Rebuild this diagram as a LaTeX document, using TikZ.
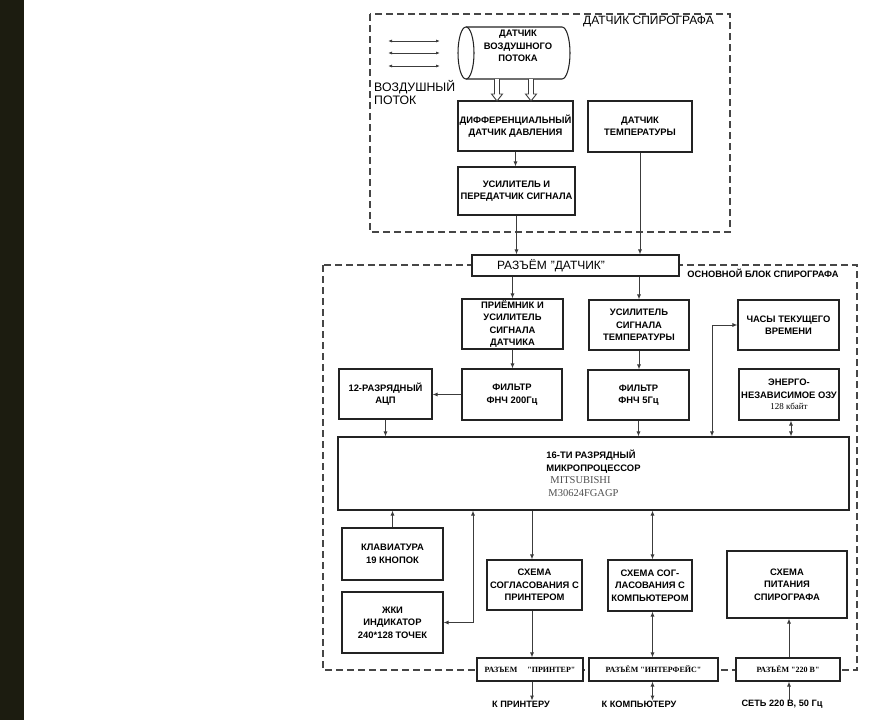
\documentclass[tikz,border=0pt]{standalone}
\usepackage{fontspec}
\setmainfont{Liberation Sans}
\newfontfamily\serifrm{Liberation Serif}
\usetikzlibrary{arrows.meta}
\definecolor{barcol}{RGB}{28,28,16}
\definecolor{linecol}{RGB}{35,35,35}
\definecolor{wirecol}{RGB}{60,60,60}
\definecolor{dashcol}{RGB}{70,70,70}
\definecolor{mpgray}{RGB}{80,80,80}
\begin{document}
\begin{tikzpicture}[x=1pt,y=-1pt,
  ln/.style={draw=linecol, line width=1.05pt},
  wire/.style={draw=wirecol, line width=0.9pt},
  box/.style={ln, fill=white, font=\fontsize{9.4}{12.5}\selectfont\bfseries, align=center, inner sep=0.5pt},
  conn/.style={ln, fill=white, font=\serifrm\fontsize{8}{10}\selectfont\bfseries, align=center, inner sep=1pt},
  dashbox/.style={draw=dashcol, line width=1.1pt, dash pattern=on 7pt off 4pt},
  arr/.style={wire, -{Latex[length=5pt,width=4pt]}},
  darr/.style={wire, {Latex[length=5pt,width=4pt]}-{Latex[length=5pt,width=4pt]}},
  flow/.style={draw=wirecol, line width=0.8pt, {Latex[length=4pt,width=3pt]}-{Latex[length=4pt,width=3pt]}},
  lbl/.style={font=\fontsize{9.2}{11}\selectfont\bfseries, inner sep=0pt}
]
\useasboundingbox (0,0) rectangle (869,720);
\fill[white] (0,0) rectangle (869,720);
\fill[barcol] (0,0) rectangle (24,720);

% dashed enclosures
\draw[dashbox] (370,14) rectangle (730,232);
\draw[dashbox] (323,265) rectangle (857,670);
\node[font=\fontsize{12}{13}\selectfont, inner sep=0pt] (t1) at (648.5,22) {ДАТЧИК СПИРОГРАФА};
\node[font=\fontsize{9.3}{10}\selectfont\bfseries, inner sep=0pt] (t2) at (763,273) {ОСНОВНОЙ БЛОК СПИРОГРАФА};

% air flow
\coordinate (fa1) at (388,41); \coordinate (fb1) at (440,41);
\coordinate (fa2) at (388,53); \coordinate (fb2) at (440,53);
\coordinate (fa3) at (388,66); \coordinate (fb3) at (440,66);
\draw[flow] (fa1) -- (fb1);
\draw[flow] (fa2) -- (fb2);
\draw[flow] (fa3) -- (fb3);
\node[font=\fontsize{12.3}{13}\selectfont, align=left, inner sep=0pt, anchor=north west] (air) at (374,80.5) {ВОЗДУШНЫЙ\\ПОТОК};

% cylinder sensor
\draw[ln, fill=white] (466,27) -- (562,27) arc[start angle=90, end angle=-90, x radius=8pt, y radius=26pt] -- (466,79);
\draw[ln, fill=white] (466,53) ellipse [x radius=8pt, y radius=26pt];
\node[font=\fontsize{9.4}{12.5}\selectfont\bfseries, align=center, inner sep=0pt] (cyl) at (518,46) {ДАТЧИК\\ВОЗДУШНОГО\\ПОТОКА};

% top boxes
\node[box, minimum width=115, minimum height=50] (diff) at (515.5,126) {ДИФФЕРЕНЦИАЛЬНЫЙ\\ДАТЧИК ДАВЛЕНИЯ};
\node[box, minimum width=104, minimum height=51] (temps) at (640,126.5) {ДАТЧИК\\ТЕМПЕРАТУРЫ};
\node[box, minimum width=117, minimum height=48] (amp) at (516.5,191) {УСИЛИТЕЛЬ И\\ПЕРЕДАТЧИК СИГНАЛА};

% hollow arrows
\foreach \xx in {497,531}{
  \draw[wire, fill=white] (\xx-2.5,79) -- (\xx-2.5,94) -- (\xx-5.5,94) -- (\xx,101) -- (\xx+5.5,94) -- (\xx+2.5,94) -- (\xx+2.5,79);
}

% sensor connector
\node[ln, fill=white, font=\fontsize{12}{13}\selectfont, inner xsep=0pt, inner ysep=1pt, text width=207pt, align=left, minimum height=21] (datc) at (575.5,265.5) {\hspace*{25pt}РАЗЪЁМ "ДАТЧИК"};

% main block boxes
\node[box, minimum width=101, minimum height=50] (recv) at (512.5,324) {ПРИЁМНИК И\\УСИЛИТЕЛЬ\\СИГНАЛА\\ДАТЧИКА};
\node[box, minimum width=100, minimum height=50] (tamp) at (639,325) {УСИЛИТЕЛЬ\\СИГНАЛА\\ТЕМПЕРАТУРЫ};
\node[box, minimum width=101, minimum height=50] (clock) at (788.5,325) {ЧАСЫ ТЕКУЩЕГО\\ВРЕМЕНИ};
\node[box, minimum width=93, minimum height=50] (adc) at (385.5,394) {12-РАЗРЯДНЫЙ\\АЦП};
\node[box, minimum width=100, minimum height=51] (f200) at (512,394.5) {ФИЛЬТР\\ФНЧ 200Гц};
\node[box, minimum width=101, minimum height=50] (f5) at (638.5,395) {ФИЛЬТР\\ФНЧ 5Гц};
\node[box, minimum width=100, minimum height=51] (ram) at (789,394.5) {ЭНЕРГО-\\НЕЗАВИСИМОЕ ОЗУ\\[-1pt]{\serifrm\mdseries\fontsize{9}{10}\selectfont 128 кбайт}};
\node[box, align=left, minimum width=511, minimum height=73] (mp) at (593.5,473.5) {16-ТИ РАЗРЯДНЫЙ\\МИКРОПРОЦЕССОР\\{\serifrm\mdseries\color{mpgray}\fontsize{10.5}{13}\selectfont\hspace*{4pt}MITSUBISHI}\\{\serifrm\mdseries\color{mpgray}\fontsize{10.5}{13}\selectfont\hspace*{2pt}M30624FGAGP}};
\node[box, minimum width=101, minimum height=52] (kbd) at (392.5,554) {КЛАВИАТУРА\\19 КНОПОК};
\node[box, minimum width=101, minimum height=61] (lcd) at (392.5,622.5) {ЖКИ\\ИНДИКАТОР\\240*128 ТОЧЕК};
\node[box, minimum width=95, minimum height=50] (prn) at (534.5,585) {СХЕМА\\СОГЛАСОВАНИЯ С\\ПРИНТЕРОМ};
\node[box, minimum width=84, minimum height=51] (cmp) at (650,585.5) {СХЕМА СОГ-\\ЛАСОВАНИЯ С\\КОМПЬЮТЕРОМ};
\node[box, minimum width=120, minimum height=67] (pwr) at (787,584.5) {СХЕМА\\ПИТАНИЯ\\СПИРОГРАФА};

% bottom connectors
\node[conn, minimum width=106, minimum height=23] (cprn) at (530,669.5) {РАЗЪЕМ\hspace{10pt}"ПРИНТЕР"};
\node[conn, minimum width=129, minimum height=23] (cint) at (653.5,669.5) {РАЗЪЁМ "ИНТЕРФЕЙС"};
\node[conn, minimum width=104, minimum height=23] (c220) at (788,669.5) {РАЗЪЁМ "220 В"};

% bottom labels
\node[lbl] (tprn) at (521,704) {К ПРИНТЕРУ};
\node[lbl] (tcmp) at (639,704) {К КОМПЬЮТЕРУ};
\node[lbl] (tnet) at (782,704) {СЕТЬ 220 В, 50 Гц};

% helper coordinates
\coordinate (ck) at (712,325);
\coordinate (lc) at (473,623);
\coordinate (px) at (532,0);
\coordinate (cx) at (652.5,0);
\coordinate (nx) at (789,0);
\coordinate (rx) at (791,0);

% connectors
\draw[arr] (diff.south) -- (diff.south |- amp.north);
\draw[arr] (amp.south) -- (amp.south |- datc.north);
\draw[arr] (temps.south) -- (temps.south |- datc.north);
\draw[arr] (recv.north |- datc.south) -- (recv.north);
\draw[arr] (tamp.north |- datc.south) -- (tamp.north);
\draw[arr] (recv.south) -- (recv.south |- f200.north);
\draw[arr] (tamp.south) -- (tamp.south |- f5.north);
\draw[arr] (f200.west) -- (f200.west -| adc.east);
\draw[arr] (adc.south) -- (adc.south |- mp.north);
\draw[arr] (f5.south) -- (f5.south |- mp.north);
\draw[darr] (ck |- mp.north) |- (clock.west);
\draw[darr] (rx |- ram.south) -- (rx |- mp.north);
\draw[arr] (kbd.north) -- (kbd.north |- mp.south);
\draw[darr] (lc |- mp.south) |- (lcd.east);
\draw[arr] (px |- mp.south) -- (px |- prn.north);
\draw[arr] (px |- prn.south) -- (px |- cprn.north);
\draw[arr] (px |- cprn.south) -- (px |- tprn.north);
\draw[darr] (cx |- mp.south) -- (cx |- cmp.north);
\draw[darr] (cx |- cmp.south) -- (cx |- cint.north);
\draw[darr] (cx |- cint.south) -- (cx |- tcmp.north);
\draw[arr] (nx |- c220.north) -- (nx |- pwr.south);
\draw[arr] (nx |- tnet.north) -- (nx |- c220.south);
\end{tikzpicture}
\end{document}
